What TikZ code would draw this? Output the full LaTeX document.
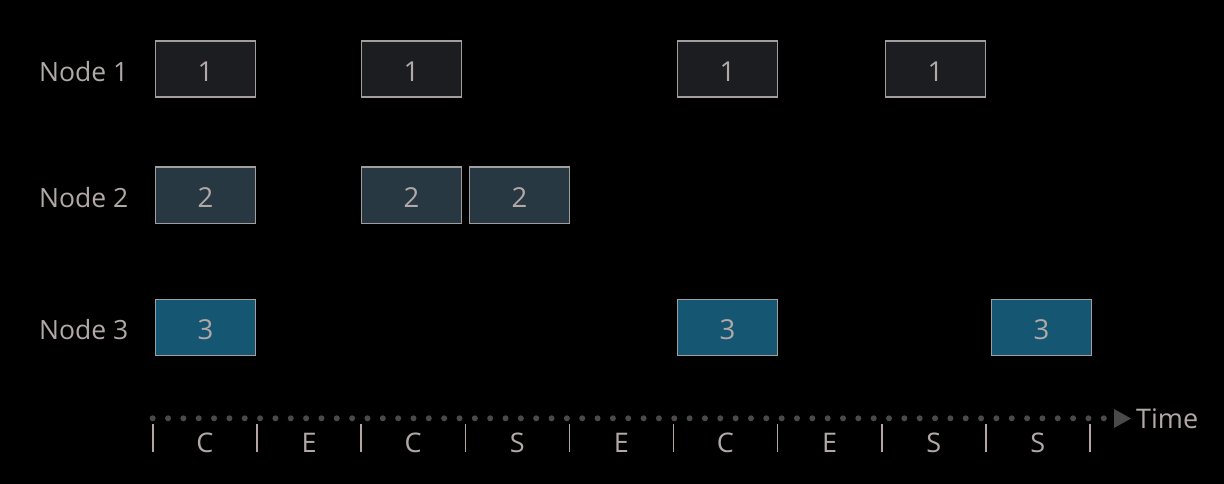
\documentclass[tikz,border=0pt]{standalone}
\usepackage{fontspec}
\setmainfont{Open Sans}
\definecolor{bg}{HTML}{000000}
\definecolor{txt}{HTML}{B2A8A8}
\definecolor{edge}{HTML}{A39D9D}
\definecolor{fillA}{HTML}{1C1D20}
\definecolor{fillB}{HTML}{283843}
\definecolor{fillC}{HTML}{155673}
\definecolor{dotc}{HTML}{4A4A4A}
\definecolor{tickc}{HTML}{B4A4A4}
\begin{document}
\begin{tikzpicture}[x=1pt,y=-1pt,
  slot/.style={draw=edge, line width=1.8pt, minimum width=100pt, minimum height=56pt, inner sep=0pt, anchor=north west, text=txt, text height=24.5pt, text depth=0pt, font=\fontsize{27.5}{30}\selectfont},
  sA/.style={slot, fill=fillA},
  sB/.style={slot, fill=fillB},
  sC/.style={slot, fill=fillC},
  rowlab/.style={anchor=west, text=txt, font=\fontsize{26.5}{30}\selectfont, inner sep=0pt},
  axlab/.style={text=txt, font=\fontsize{27}{30}\selectfont, inner sep=0pt},
  tickmark/.style={draw=tickc, line width=1.6pt},
  dotmark/.style={fill=dotc, draw=none}
]
\fill[bg] (0,0) rectangle (1224,484);
\useasboundingbox (0,0) rectangle (1224,484);
% row labels
\node[rowlab] (l1) at (39,72) {Node 1};
\node[rowlab] (l2) at (39,197.5) {Node 2};
\node[rowlab] (l3) at (39,329.5) {Node 3};
% row 1
\node[sA] (a1) at (154.5,40.5) {1};
\node[sA] (a2) at (360.5,40.5) {1};
\node[sA] (a3) at (676.5,40.5) {1};
\node[sA] (a4) at (884.5,40.5) {1};
% row 2
\node[sB] (b1) at (154.5,166.5) {2};
\node[sB] (b2) at (360.5,166.5) {2};
\node[sB] (b3) at (468.5,166.5) {2};
% row 3
\node[sC] (c1) at (154.5,298.5) {3};
\node[sC] (c2) at (676.5,298.5) {3};
\node[sC] (c3) at (990.5,298.5) {3};
% dotted time axis
\foreach \i in {0,...,62} {
  \fill[dotmark] ({152.7+15.34*\i},418.3) circle (3pt);
}
\fill[dotc] (1114,409) -- (1131,418.5) -- (1114,428) -- cycle;
\node[anchor=west, text=txt, font=\fontsize{27}{30}\selectfont, inner sep=0pt] (time) at (1136,419) {Time};
% ticks
\foreach \i in {0,...,9} {
  \draw[tickmark] ({153+104.1*\i},424) -- ({153+104.1*\i},451.5);
}
% slot letters
\foreach \l [count=\i from 0] in {C,E,C,S,E,C,E,S,S} {
  \node[axlab] (t\i) at ({205+104.1*\i},443) {\l};
}
\end{tikzpicture}
\end{document}
